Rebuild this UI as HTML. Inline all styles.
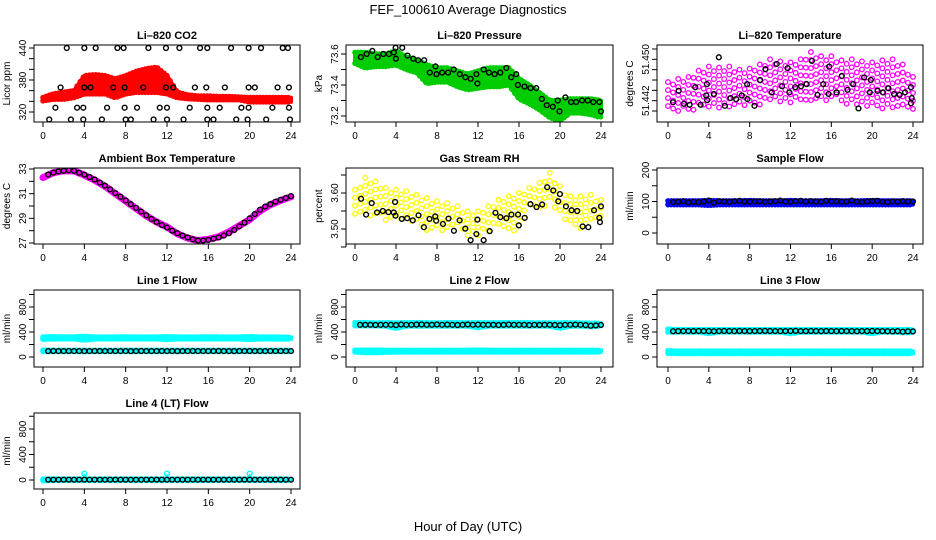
<!DOCTYPE html>
<html><head><meta charset="utf-8"><style>
html,body{margin:0;padding:0;background:#fff;}
svg{display:block;font-family:"Liberation Sans",sans-serif;}
</style></head><body>
<svg id="chart" width="936" height="540" viewBox="0 0 936 540" xmlns="http://www.w3.org/2000/svg">
<text x="468" y="14" font-size="13" text-anchor="middle">FEF_100610  Average Diagnostics</text>
<text x="468" y="531" font-size="13" text-anchor="middle">Hour of Day (UTC)</text>
</svg>
<script>
// ---------- data ----------
const hoursHourly = [0,1,2,3,4,5,6,7,8,9,10,11,12,13,14,15,16,17,18,19,20,21,22,23,24];
const xTicks = [0,4,8,12,16,20,24];

// CO2
const co2RowHours440 = [2.3,4.0,5.1,7.2,7.8,10.2,11.9,13.2,15.2,15.9,18.2,19.9,21.1,23.2,23.7];
const co2RowHours366 = [1.7,4.0,4.6,6.8,7.9,9.7,11.9,12.6,14.7,15.8,17.6,19.9,20.5,22.7,23.8];
const co2RowHours328 = [1.2,3.3,3.9,6.2,7.9,9.1,11.3,12.0,14.2,15.9,17.1,19.2,19.9,22.2,23.8];
const co2RowHours306 = [0.6,2.7,3.9,5.7,8.0,8.5,10.7,12.0,13.6,15.9,16.5,18.7,19.8,21.6,23.9];
const co2RowValues = [440,366,328,306];
const co2Lower = [341,344,344,347,354,354,354,347,354,357,357,357,354,347,345,344,343,343,343,343,339,339,339,339,339];
const co2Upper = [347,354,357,360,388,390,388,382,388,396,401,404,388,357,352,350,350,349,349,348,347,347,347,347,347];

// Pressure
const presBlackH = [0.58,1.14,1.69,2.21,2.76,3.31,3.79,3.96,3.99,4.61,5.12,5.68,6.16,6.75,7.30,7.85,7.95,8.5,9.08,9.63,10.22,10.77,11.29,11.84,11.94,12.55,13.07,13.62,14.17,14.76,15.24,15.73,15.89,16.54,17.12,17.68,18.23,18.71,19.30,19.78,19.95,20.53,21.08,21.57,22.15,22.70,23.25,23.84,24.0];
const presBlackV = [73.58,73.60,73.62,73.58,73.60,73.60,73.61,73.64,73.57,73.64,73.59,73.57,73.56,73.56,73.48,73.52,73.47,73.48,73.48,73.50,73.47,73.45,73.44,73.47,73.41,73.50,73.48,73.47,73.48,73.51,73.45,73.47,73.40,73.39,73.38,73.38,73.31,73.27,73.26,73.30,73.23,73.32,73.29,73.29,73.30,73.30,73.29,73.29,73.23];
const presUpper = [73.61,73.61,73.60,73.60,73.62,73.58,73.56,73.53,73.51,73.51,73.49,73.47,73.49,73.51,73.51,73.51,73.44,73.40,73.35,73.30,73.30,73.31,73.31,73.31,73.30];
const presLower = [73.54,73.51,73.52,73.52,73.53,73.50,73.48,73.41,73.42,73.42,73.39,73.37,73.38,73.39,73.39,73.40,73.31,73.28,73.24,73.19,73.17,73.22,73.22,73.21,73.19];

// Li-820 temperature
const tempBlackH = [0.49,1.04,1.56,2.12,2.67,3.19,3.74,3.81,3.84,4.49,4.98,5.57,6.12,6.68,7.23,7.75,7.78,8.47,9.02,9.54,10.16,10.65,11.17,11.72,11.89,12.47,13.03,13.58,14.10,14.65,15.21,15.73,15.79,16.51,17.03,17.59,18.14,18.66,19.21,19.77,19.87,20.52,21.07,21.59,22.14,22.69,23.22,23.8,23.87,23.8];
const tempBlackV = [51.4417,51.4439,51.4414,51.4412,51.4446,51.4412,51.4430,51.4452,51.4421,51.4433,51.4504,51.4410,51.4425,51.4423,51.4430,51.4452,51.4423,51.4410,51.4460,51.4481,51.4436,51.4491,51.4448,51.4483,51.4436,51.4446,51.4448,51.4452,51.4497,51.4431,51.4452,51.4433,51.4486,51.4436,51.4468,51.4441,51.4452,51.4405,51.4465,51.4436,51.4460,51.4439,51.4436,51.4444,51.4433,51.4431,51.4436,51.4446,51.4425,51.4415];
const tempUpper = [51.4456,51.4462,51.4466,51.4478,51.4486,51.4484,51.4486,51.4480,51.4482,51.4490,51.4500,51.4496,51.4494,51.4500,51.4514,51.4506,51.4506,51.4498,51.4500,51.4496,51.4494,51.4498,51.4500,51.4490,51.4466];
const tempLower = [51.4398,51.4400,51.4400,51.4402,51.4404,51.4406,51.4408,51.4410,51.4410,51.4410,51.4412,51.4414,51.4416,51.4416,51.4416,51.4416,51.4418,51.4416,51.4408,51.4406,51.4406,51.4404,51.4402,51.4400,51.4402];

// Ambient box temperature
const ambHourly = [32.3,32.7,32.85,32.85,32.5,32.1,31.6,31.0,30.4,29.8,29.2,28.7,28.3,27.75,27.4,27.2,27.3,27.5,27.9,28.4,28.9,29.6,30.1,30.45,30.75];
const ambBlack = [32.55,32.7,32.8,32.85,32.9,32.85,32.7,32.55,32.35,32.15,31.9,31.65,31.35,31.05,30.75,30.45,30.15,29.85,29.55,29.25,28.95,28.7,28.45,28.25,28.0,27.8,27.6,27.45,27.3,27.2,27.2,27.25,27.35,27.45,27.6,27.8,28.05,28.35,28.65,29.0,29.35,29.7,29.95,30.15,30.35,30.5,30.65,30.8];

// Gas stream RH
const rhBlackH = [0.59,1.08,1.63,2.15,2.71,3.26,3.78,3.91,3.95,4.57,5.09,5.64,6.2,6.72,7.27,7.83,7.92,8.58,9.13,9.65,10.21,10.76,11.28,11.84,11.94,12.55,13.14,13.70,14.18,14.77,15.26,15.91,15.98,16.56,17.12,17.71,18.26,18.75,19.34,19.83,19.99,20.58,21.13,21.68,22.21,22.76,23.32,23.84,23.9,24.0];
const rhBlackV = [3.584,3.540,3.572,3.546,3.550,3.547,3.546,3.575,3.537,3.528,3.530,3.524,3.538,3.505,3.528,3.535,3.523,3.514,3.529,3.495,3.524,3.501,3.469,3.486,3.526,3.469,3.494,3.545,3.533,3.530,3.540,3.540,3.510,3.531,3.569,3.561,3.568,3.616,3.607,3.577,3.597,3.563,3.552,3.550,3.507,3.505,3.552,3.531,3.519,3.563];
const rhUpper = [3.609,3.642,3.632,3.614,3.609,3.605,3.595,3.586,3.577,3.572,3.563,3.549,3.549,3.563,3.581,3.591,3.600,3.614,3.628,3.656,3.619,3.591,3.591,3.595,3.581];
const rhLower = [3.521,3.531,3.535,3.521,3.526,3.517,3.517,3.489,3.489,3.494,3.507,3.480,3.470,3.489,3.507,3.480,3.489,3.549,3.554,3.572,3.531,3.517,3.498,3.517,3.535];

// Sample flow
const sampleBlack = [98,99,101,97,99,98,100,103,96,101,100,99,101,102,100,99,100,101,99,100,101,103,100,99,101,102,100,101,100,99,102,100,101,99,100,103,99,98,100,101,102,99,98,100,99,101,100,100];
const sampleUpper = [102,102,102,102,103,102,102,102,103,102,102,102,103,102,102,102,103,102,102,102,103,102,102,102,102];
const sampleLower = [90,90,90,90,88,90,90,90,90,90,90,90,90,90,90,90,90,90,90,90,90,90,90,90,90];

// Line flows (hourly cyan bands, half-hourly black)
const line1Black = [95,96,95,95,96,95,95,94,95,96,95,95,96,95,95,95,94,95,96,95,95,95,96,95,95,94,95,95,96,95,95,95,95,96,95,95,94,95,95,96,95,95,95,96,95,95,95,95];
const line1HiUpper = [320,325,320,322,330,320,320,320,322,320,320,320,325,320,320,320,322,320,320,320,325,320,320,318,318];
const line1HiLower = [285,290,290,290,270,290,290,290,290,290,290,290,280,290,290,290,290,290,290,290,280,290,290,288,288];
const line1LoUpper = [110,108,108,108,108,108,108,108,108,108,108,108,108,108,108,108,108,108,108,108,108,108,108,108,108];
const line1LoLower = [88,88,88,88,88,88,88,88,88,88,88,88,88,88,88,88,88,88,88,88,88,88,88,88,88];
const line2Black = [515,515,515,512,515,515,515,510,520,515,515,518,520,515,515,520,515,518,515,512,515,520,515,518,515,515,515,512,515,518,515,515,515,510,515,512,515,515,512,508,515,515,518,515,510,500,505,512];
const line2HiUpper = [550,550,545,548,545,550,550,548,545,550,548,548,548,548,548,550,550,548,545,545,545,548,545,540,540];
const line2HiLower = [500,500,500,495,460,495,495,495,495,495,495,495,470,495,495,495,495,495,495,495,460,495,495,485,495];
const line2LoUpper = [110,110,110,108,108,108,108,108,108,108,108,108,110,108,108,108,108,108,108,108,108,108,108,108,108];
const line2LoLower = [80,70,70,75,80,80,80,80,80,80,80,80,80,80,80,80,80,80,80,80,80,80,80,80,80];
const line3Black = [412,414,415,415,414,416,415,414,412,415,416,415,414,416,415,414,415,416,418,416,415,414,415,416,418,415,414,416,415,414,416,415,414,416,415,414,412,415,414,416,415,414,412,410,414,405,410,410];
const line3HiUpper = [445,440,440,440,440,440,440,440,440,440,440,440,440,440,440,440,440,440,440,440,440,440,440,440,440];
const line3HiLower = [400,400,400,400,375,400,400,400,400,400,400,400,375,400,400,400,400,400,400,400,375,400,400,390,390];
const line3LoUpper = [100,95,95,95,95,95,95,95,95,95,95,95,95,95,95,95,95,95,95,95,95,95,95,95,95];
const line3LoLower = [60,55,55,55,55,55,55,55,55,55,55,55,55,55,55,55,55,55,55,55,55,55,55,55,55];
const line4Black = [5,5,5,5,5,5,5,5,5,5,5,5,5,5,5,5,5,5,5,5,5,5,5,5,5,5,5,5,5,5,5,5,5,5,5,5,5,5,5,5,5,5,5,5,5,5,5,5];
const line4SpikeH = [4,12,20];
const line4SpikeV = [100,100,100];
const line4Upper = [15,15,15,15,15,15,15,15,15,15,15,15,15,15,15,15,15,15,15,15,15,15,15,15,15];
const line4Lower = [-10,-5,-5,-5,-5,-5,-5,-5,-5,-5,-5,-5,-5,-5,-5,-5,-5,-5,-5,-5,-5,-5,-5,-5,-5];

// ---------- rendering ----------
const NS = "http://www.w3.org/2000/svg";
const svg = document.getElementById('chart');
function mk(tag, attrs, parent){const e=document.createElementNS(NS,tag);for(const k in attrs)e.setAttribute(k,attrs[k]);(parent||svg).appendChild(e);return e;}

const colX = [[34,300,43,291],[346,613,355,601],[657,923,668,913]];
const rowY = [[45,122],[168,244],[290,367],[413,489]];

function makePanel(name,title,ytitle,col,row,v1,p1,v2,p2,ticks,labels){
  const [bx0,bx1,hx0,hx1]=colX[col];const [by0,by1]=rowY[row];
  const g=mk('g',{});
  
  
  const P={g,x:h=>hx0+(hx1-hx0)*h/24,y:v=>p1+(v-v1)*(p2-p1)/(v2-v1),bx0,bx1,by0,by1};
  const clip=mk('clipPath',{id:'c'+name},g);mk('rect',{x:bx0,y:by0,width:bx1-bx0,height:by1-by0},clip);
  P.plot=mk('g',{'clip-path':'url(#c'+name+')'},g);
  const box=mk('rect',{x:bx0,y:by0,width:bx1-bx0,height:by1-by0,fill:'none',stroke:'#000','stroke-width':1},g);
  
  
  const t=mk('text',{x:(bx0+bx1)/2,y:by0-6,'font-size':11,'font-weight':'bold','text-anchor':'middle'},g);t.textContent=title;
  
  
  const xa=mk('g',{},g);
  
  
  mk('line',{x1:P.x(0),x2:P.x(24),y1:by1,y2:by1,stroke:'#000'},xa);
  xTicks.forEach(h=>{mk('line',{x1:P.x(h),x2:P.x(h),y1:by1,y2:by1+5,stroke:'#000'},xa);
    const l=mk('text',{x:P.x(h),y:by1+17,'font-size':10,'text-anchor':'middle'},xa);l.textContent=h;});
  const ya=mk('g',{},g);
  
  
  mk('line',{x1:bx0,x2:bx0,y1:P.y(ticks[0]),y2:P.y(ticks[ticks.length-1]),stroke:'#000'},ya);
  ticks.forEach(v=>mk('line',{x1:bx0-5,x2:bx0,y1:P.y(v),y2:P.y(v),stroke:'#000'},ya));
  labels.forEach(([v,s])=>{const yy=P.y(v);const l=mk('text',{x:bx0-8,y:yy,'font-size':10,'text-anchor':'middle',transform:`rotate(-90 ${bx0-8} ${yy})`},ya);l.textContent=s;});
  const yt=mk('text',{x:bx0-24,y:(by0+by1)/2,'font-size':10,'text-anchor':'middle',transform:`rotate(-90 ${bx0-24} ${(by0+by1)/2})`},g);yt.textContent=ytitle;
  
  
  return P;
}
function pt(P,h,v,color,nm){const c=mk('circle',{cx:P.x(h),cy:P.y(v),r:2.4,fill:'none',stroke:color,'stroke-width':1.4},P.plot);
  
  }
function interp(arr,h){const i=Math.min(Math.floor(h),23);const f=h-i;return arr[i]*(1-f)+arr[i+1]*f;}
function solidBand(P,lo,hi,color,nm){
  const gb=mk('g',{},P.plot);
  
  
  let d='';hoursHourly.forEach((h,i)=>{d+=(i?'L':'M')+P.x(h)+','+P.y(hi[i]);});
  for(let i=hoursHourly.length-1;i>=0;i--)d+='L'+P.x(hoursHourly[i])+','+P.y(lo[i]);
  mk('path',{d:d+'Z',fill:color,stroke:color,'stroke-width':4,'stroke-linejoin':'round'},gb);
  for(let h=0;h<=24;h+=0.3){[hi,lo].forEach(a=>mk('circle',{cx:P.x(h),cy:P.y(interp(a,h)),r:2.2,fill:'none',stroke:color,'stroke-width':1.2},gb));}
}
function sparseBand(P,lo,hi,color,nm){
  const gb=mk('g',{},P.plot);
  
  
  let col=0;
  for(let h=0;h<=24.001;h+=0.5,col++){
    const yt=P.y(interp(hi,h)),yb=P.y(interp(lo,h));
    const top=Math.min(yt,yb),bot=Math.max(yt,yb);
    for(let y=top+(col%2?4:0);y<=bot;y+=8)mk('circle',{cx:P.x(h),cy:y,r:2.3,fill:'none',stroke:color,'stroke-width':1.3},gb);
  }
}
const halfH = i=>0.5*(i+1);
function range(a,b,s){const r=[];for(let v=a;v<=b+1e-9;v+=s)r.push(+v.toFixed(4));return r;}

let P=makePanel('co2-panel','Li\u2013820 CO2','Licor ppm',0,0,440,48,320,112,range(320,440,20),[[320,'320'],[380,'380'],[440,'440']]);
solidBand(P,co2Lower,co2Upper,'#ff0000','co2-red-series');
[co2RowHours440,co2RowHours366,co2RowHours328,co2RowHours306].forEach((arr,k)=>arr.forEach(h=>pt(P,h,co2RowValues[k],'#000','co2-point')));

P=makePanel('pressure-panel','Li\u2013820 Pressure','kPa',1,0,73.6,54,73.2,116,range(73.2,73.65,0.1),[[73.2,'73.2'],[73.4,'73.4'],[73.6,'73.6']]);
solidBand(P,presLower,presUpper,'#00cc00','pressure-green-series');
presBlackH.forEach((h,i)=>pt(P,h,presBlackV[i],'#000','pressure-point'));

P=makePanel('li820-temp-panel','Li\u2013820 Temperature','degrees C',2,0,51.440,111,51.452,49,range(51.440,51.452,0.002),[[51.442,'51.442'],[51.450,'51.450']]);
sparseBand(P,tempLower,tempUpper,'#ff00ff','temp-magenta-series');
tempBlackH.forEach((h,i)=>pt(P,h,tempBlackV[i],'#000','temp-point'));

P=makePanel('ambient-temp-panel','Ambient Box Temperature','degrees C',0,1,33,169,27,243,range(27,33,1),[[27,'27'],[29,'29'],[31,'31'],[33,'33']]);
{let d='';hoursHourly.forEach((h,i)=>{d+=(i?'L':'M')+P.x(h)+','+P.y(ambHourly[i]);});
 const pl=mk('path',{d,fill:'none',stroke:'#ff00ff','stroke-width':7,'stroke-linejoin':'round','stroke-linecap':'round'},P.plot);
 
 }
ambBlack.forEach((v,i)=>pt(P,halfH(i),v,'#000','ambient-point'));

P=makePanel('rh-panel','Gas Stream RH','percent',1,1,3.60,193,3.50,229,range(3.45,3.65,0.05),[[3.50,'3.50'],[3.60,'3.60']]);
sparseBand(P,rhLower,rhUpper,'#ffff00','rh-yellow-series');
rhBlackH.forEach((h,i)=>pt(P,h,rhBlackV[i],'#000','rh-point'));

P=makePanel('sample-flow-panel','Sample Flow','ml/min',2,1,200,170,0,233,range(0,200,50),[[0,'0'],[100,'100'],[200,'200']]);
solidBand(P,sampleLower,sampleUpper,'#0000ff','sample-blue-series');
sampleBlack.forEach((v,i)=>pt(P,halfH(i),v,'#000','sample-point'));

const flowTicks=range(0,1000,200), flowLabels=[[0,'0'],[400,'400'],[800,'800']];
P=makePanel('line1-panel','Line 1 Flow','ml/min',0,2,0,357,800,307,flowTicks,flowLabels);
solidBand(P,line1HiLower,line1HiUpper,'#00ffff','line1-cyan-high');
solidBand(P,line1LoLower,line1LoUpper,'#00ffff','line1-cyan-low');
line1Black.forEach((v,i)=>pt(P,halfH(i),v,'#000','line1-point'));

P=makePanel('line2-panel','Line 2 Flow','ml/min',1,2,0,357,800,307,flowTicks,flowLabels);
solidBand(P,line2HiLower,line2HiUpper,'#00ffff','line2-cyan-high');
solidBand(P,line2LoLower,line2LoUpper,'#00ffff','line2-cyan-low');
line2Black.forEach((v,i)=>pt(P,halfH(i),v,'#000','line2-point'));

P=makePanel('line3-panel','Line 3 Flow','ml/min',2,2,0,357,800,307,flowTicks,flowLabels);
solidBand(P,line3HiLower,line3HiUpper,'#00ffff','line3-cyan-high');
solidBand(P,line3LoLower,line3LoUpper,'#00ffff','line3-cyan-low');
line3Black.forEach((v,i)=>pt(P,halfH(i),v,'#000','line3-point'));

P=makePanel('line4-panel','Line 4 (LT) Flow','ml/min',0,3,0,480,800,429,flowTicks,flowLabels);
solidBand(P,line4Lower,line4Upper,'#00ffff','line4-cyan-series');
line4SpikeH.forEach((h,i)=>{mk('line',{x1:P.x(h),x2:P.x(h),y1:P.y(0),y2:P.y(line4SpikeV[i]),stroke:'#00ffff','stroke-width':1.2},P.plot);pt(P,h,line4SpikeV[i],'#00ffff','line4-spike');});
line4Black.forEach((v,i)=>pt(P,halfH(i),v,'#000','line4-point'));
</script>
</body></html>
